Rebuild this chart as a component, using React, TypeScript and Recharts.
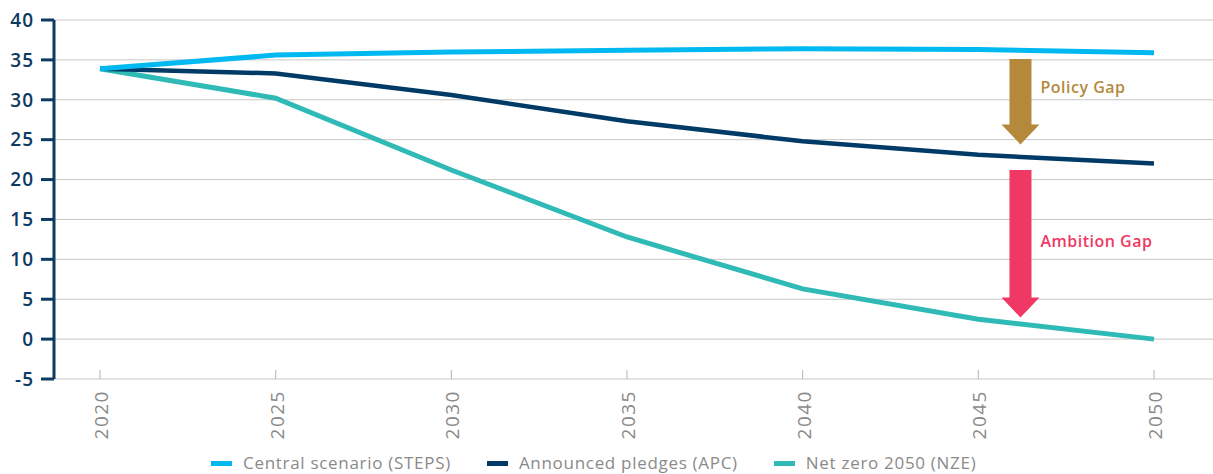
import React from 'react';
import {
  LineChart,
  Line,
  XAxis,
  YAxis,
  CartesianGrid,
  Legend,
  ReferenceLine,
} from 'recharts';

const years = [2020, 2025, 2030, 2035, 2040, 2045, 2050];
const steps = [33.9, 35.6, 36.0, 36.2, 36.4, 36.3, 35.9];
const apc = [33.9, 33.3, 30.6, 27.3, 24.8, 23.1, 22.0];
const nze = [33.9, 30.2, 21.2, 12.8, 6.3, 2.5, 0.0];
const yTicks = [-5, 0, 5, 10, 15, 20, 25, 30, 35, 40];

const seriesNames = ['Central scenario (STEPS)', 'Announced pledges (APC)', 'Net zero 2050 (NZE)'];
const seriesColors = ['#00b9f1', '#003a66', '#30bab6'];

// gap arrows: [x year, from value, to value]
const policyGap = { year: 2046.2, from: 35.1, to: 24.4, label: 'Policy Gap' };
const ambitionGap = { year: 2046.2, from: 21.2, to: 2.7, label: 'Ambition Gap' };

const data = years.map((year, i) => ({
  year,
  steps: steps[i],
  apc: apc[i],
  nze: nze[i],
}));

const FONT = '"Open Sans", "Noto Sans", sans-serif';

const XTick = (props: any) => {
  const { x, y, payload } = props;
  return (
    <g>
      <line x1={x} x2={x} y1={y - 9} y2={y} stroke="#b4b4b4" strokeWidth={1} />
      <text
        x={x + 1}
        y={y + 11}
        transform={`rotate(-90, ${x + 1}, ${y + 11})`}
        textAnchor="end"
        dominantBaseline="central"
        fill="#8a8a8a"
        fontSize={19}
        fontFamily={FONT}
        letterSpacing={1.5}
      >
        {payload.value}
      </text>
    </g>
  );
};

const makeArrow = (color: string, label: string, labelDy: number) => (props: any) => {
  const { x1, y1, y2 } = props;
  const half = 11;
  const headHalf = 19;
  const headLen = 20;
  const top = Math.min(y1, y2);
  const tip = Math.max(y1, y2);
  const pts = [
    [x1 - half, top],
    [x1 + half, top],
    [x1 + half, tip - headLen],
    [x1 + headHalf, tip - headLen],
    [x1, tip],
    [x1 - headHalf, tip - headLen],
    [x1 - half, tip - headLen],
  ]
    .map((p) => p.join(','))
    .join(' ');
  return (
    <g>
      <polygon points={pts} fill={color} />
      <text
        x={x1 + 20}
        y={top + labelDy}
        fill={color}
        fontSize={16}
        fontWeight={600}
        fontFamily={FONT}
        letterSpacing={0.5}
      >
        {label}
      </text>
    </g>
  );
};

const renderLegend = () => (
  <div
    style={{
      display: 'flex',
      alignItems: 'center',
      height: 22,
      paddingLeft: 211,
      fontFamily: FONT,
      fontSize: 17,
      lineHeight: '22px',
      color: '#8a8a8a',
    }}
  >
    {seriesNames.map((name, i) => (
      <div key={name} style={{ display: 'flex', alignItems: 'center', marginRight: 36 }}>
        <span
          style={{ display: 'inline-block', width: 21, height: 5, background: seriesColors[i], marginRight: 11 }}
        />
        <span style={{ letterSpacing: 0.7, whiteSpace: 'nowrap' }}>{name}</span>
      </div>
    ))}
  </div>
);

export default function App() {
  return (
    <div style={{ position: 'absolute', left: 0, top: 0, background: '#fff' }}>
      <LineChart width={1213} height={474} data={data} margin={{ top: 20, right: 0, bottom: 0, left: 0 }}>
        <CartesianGrid horizontal vertical={false} stroke="#c6c6c6" strokeWidth={1} />
        <XAxis
          dataKey="year"
          type="number"
          domain={[2018.69, 2051.68]}
          allowDataOverflow
          ticks={years}
          axisLine={false}
          tickLine={false}
          tickSize={0}
          tickMargin={0}
          height={73}
          tick={<XTick />}
          interval={0}
        />
        <YAxis
          width={54}
          domain={[-5, 40]}
          ticks={yTicks}
          interval={0}
          axisLine={{ stroke: '#0d3a63', strokeWidth: 3 }}
          tickLine={{ stroke: '#0d3a63', strokeWidth: 3 }}
          tickSize={13}
          tickMargin={7}
          tick={{ fill: '#0d3a63', fontSize: 19, fontWeight: 600, fontFamily: FONT, letterSpacing: 1 }}
        />
        <Legend verticalAlign="bottom" height={22} content={renderLegend} wrapperStyle={{ bottom: 0, left: 0, width: 1213 }} />
        <Line dataKey="nze" name={seriesNames[2]} stroke={seriesColors[2]} strokeWidth={5} dot={false} isAnimationActive={false} />
        <Line dataKey="apc" name={seriesNames[1]} stroke={seriesColors[1]} strokeWidth={4.5} dot={false} isAnimationActive={false} />
        <Line dataKey="steps" name={seriesNames[0]} stroke={seriesColors[0]} strokeWidth={5} dot={false} isAnimationActive={false} />
        <ReferenceLine
          segment={[
            { x: policyGap.year, y: policyGap.from },
            { x: policyGap.year, y: policyGap.to },
          ]}
          shape={makeArrow('#b5893b', policyGap.label, 34)}
        />
        <ReferenceLine
          segment={[
            { x: ambitionGap.year, y: ambitionGap.from },
            { x: ambitionGap.year, y: ambitionGap.to },
          ]}
          shape={makeArrow('#ef3964', ambitionGap.label, 77)}
        />
      </LineChart>
    </div>
  );
}
